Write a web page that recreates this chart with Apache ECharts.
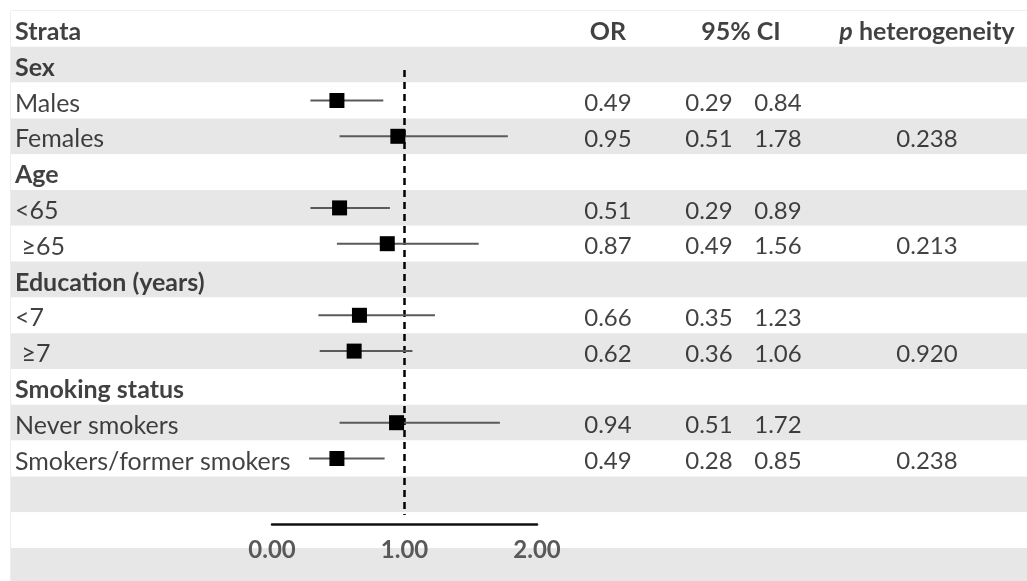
<!DOCTYPE html>
<html>
<head>
<meta charset="utf-8">
<script src="https://cdn.jsdelivr.net/npm/echarts@6/dist/echarts.min.js"></script>
<style>
  html, body {margin: 0; padding: 0; background: #fff;}
  #chart {width: 1027px; height: 581px;}
</style>
</head>
<body>
<div id="chart"></div>
<script>
// data
var strata = ['Sex', 'Males', 'Females', 'Age', '<65', ' ≥65', 'Education (years)', '<7', ' ≥7', 'Smoking status', 'Never smokers', 'Smokers/former smokers'];
var isGroup = [true, false, false, true, false, false, true, false, false, true, false, false];
var orValues = [null, 0.49, 0.95, null, 0.51, 0.87, null, 0.66, 0.62, null, 0.94, 0.49];
var ciLower = [null, 0.29, 0.51, null, 0.29, 0.49, null, 0.35, 0.36, null, 0.51, 0.28];
var ciUpper = [null, 0.84, 1.78, null, 0.89, 1.56, null, 1.23, 1.06, null, 1.72, 0.85];
var pHeterogeneity = ['', '', '0.238', '', '', '0.213', '', '', '0.920', '', '', '0.238'];
var headers = ['Strata', 'OR', '95% CI', 'p heterogeneity'];
var refValue = 1;

// layout
var FONT = 'Lato';
var FS = 25;              // 文字字号
var FS_NUM = 24;          // 数字字号
var rowH = 35.8;          // 每行高度
var top0 = 11;
var nRows = 17;
var axisRow = 14.33;      // 坐标轴所在位置(行)
var col = {label: 4, or: 597, lo: 698, hi: 767, p: 916, ci: 730};

var myChart = echarts.init(document.getElementById('chart'));

function rowY (i) { return i + 1.5 }   // strata i -> 行中心

function textSeries (items, align, extra) {
  return {
    type: 'scatter',
    xAxisIndex: 0,
    yAxisIndex: 0,
    symbol: 'circle',
    symbolSize: 1,
    silent: true,
    itemStyle: {color: 'rgba(0,0,0,0)'},
    label: Object.assign({
      show: true,
      position: 'inside',
      align: align,
      verticalAlign: 'middle',
      offset: [0, 3],
      formatter: function (p) { return p.name },
      color: '#111',
      fontFamily: FONT,
      fontSize: FS
    }, extra || {}),
    data: items
  }
}

var labelItems = strata.map(function (s, i) {
  return {name: s, value: [col.label, rowY(i)], label: {fontWeight: isGroup[i] ? 'bold' : 'normal'}}
})
var orItems = [], loItems = [], hiItems = [], pItems = []
strata.forEach(function (s, i) {
  if (orValues[i] !== null) {
    orItems.push({name: orValues[i].toFixed(2), value: [col.or, rowY(i)]})
    loItems.push({name: ciLower[i].toFixed(2), value: [col.lo, rowY(i)]})
    hiItems.push({name: ciUpper[i].toFixed(2), value: [col.hi, rowY(i)]})
  }
  if (pHeterogeneity[i]) pItems.push({name: pHeterogeneity[i], value: [col.p, rowY(i)]})
})

var headerItems = [
  {name: headers[0], value: [col.label, 0.5], label: {align: 'left'}},
  {name: headers[1], value: [col.or, 0.5]},
  {name: headers[2], value: [col.ci, 0.5]},
  {name: headers[3], value: [col.p, 0.5]}
]

var ciData = [], pointData = []
orValues.forEach(function (v, i) {
  if (v === null) return
  ciData.push([ciLower[i], ciUpper[i], rowY(i)])
  pointData.push([v, rowY(i)])
})

var option = {
  animation: false,
  grid: [
    {left: 11, right: -2, top: top0, height: rowH * nRows, show: true, borderColor: '#dcdcdc', borderWidth: 1, outerBoundsMode: 'none'},
    {left: 272, width: 265, top: top0, height: rowH * axisRow, outerBoundsMode: 'none'}
  ],
  xAxis: [
    {gridIndex: 0, type: 'value', min: 0, max: 1018, show: false},
    {
      gridIndex: 1, type: 'value', min: 0, max: 2, interval: 1, position: 'bottom',
      axisLine: {onZero: false, lineStyle: {color: '#111', width: 2.5}},
      axisTick: {show: false},
      splitLine: {show: false},
      axisLabel: {
        formatter: function (v) { return v.toFixed(2) },
        color: '#595959', fontWeight: 'bold', fontSize: 24, fontFamily: FONT, margin: 14
      }
    }
  ],
  yAxis: [
    {
      gridIndex: 0, type: 'value', min: 0, max: nRows, interval: 1, inverse: true,
      axisLine: {show: false}, axisTick: {show: false}, axisLabel: {show: false},
      splitLine: {show: false},
      splitArea: {show: true, areaStyle: {color: ['#ffffff', '#e7e7e7']}}
    },
    {gridIndex: 1, type: 'value', min: 0, max: axisRow, inverse: true, show: false}
  ],
  series: [
    {
      type: 'line',
      xAxisIndex: 1, yAxisIndex: 1,
      symbol: 'none',
      silent: true,
      lineStyle: {color: '#000', width: 2.5, type: [7, 5]},
      data: [[refValue, 1.65], [refValue, 14.08]],
      z: 3
    },
    {
      type: 'custom',
      xAxisIndex: 1, yAxisIndex: 1,
      silent: true,
      renderItem: function (params, api) {
        var p1 = api.coord([api.value(0), api.value(2)])
        var p2 = api.coord([api.value(1), api.value(2)])
        return {
          type: 'line',
          shape: {x1: p1[0], y1: p1[1], x2: p2[0], y2: p2[1]},
          style: {stroke: '#5a5a5a', lineWidth: 2}
        }
      },
      data: ciData,
      z: 4
    },
    {
      type: 'scatter',
      xAxisIndex: 1, yAxisIndex: 1,
      symbol: 'rect',
      symbolSize: 15,
      silent: true,
      itemStyle: {color: '#000', opacity: 1},
      data: pointData,
      z: 5
    },
    textSeries(labelItems, 'left'),
    textSeries(orItems, 'center', {fontSize: FS_NUM}),
    textSeries(loItems, 'center', {fontSize: FS_NUM}),
    textSeries(hiItems, 'center', {fontSize: FS_NUM}),
    textSeries(pItems, 'center', {fontSize: FS_NUM}),
    textSeries(headerItems, 'center', {
      fontWeight: 'bold',
      formatter: function (p) {
        return p.name === headers[3] ? '{i|p} heterogeneity' : p.name
      },
      rich: {i: {fontStyle: 'italic', fontWeight: 'bold', fontSize: FS, fontFamily: FONT, color: '#111'}}
    })
  ]
}

myChart.setOption(option)
</script>
</body>
</html>
